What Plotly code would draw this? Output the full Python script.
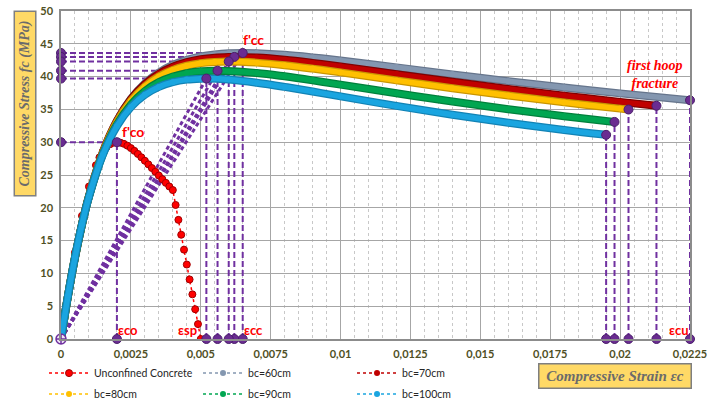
import plotly.graph_objects as go

# ---------------- data ----------------
unconf_strain = [0, 0.00025, 0.0005, 0.00075, 0.001, 0.00125, 0.001375, 0.0015, 0.001625, 0.00175,
                 0.001875, 0.002, 0.002125, 0.00225, 0.002375, 0.0025, 0.002625, 0.00275, 0.002875,
                 0.003, 0.003125, 0.00325, 0.003375, 0.0035, 0.003625, 0.00375, 0.003875, 0.004,
                 0.0041, 0.0042, 0.0043, 0.0044, 0.0045, 0.0046, 0.0047, 0.0048, 0.0049, 0.005]
unconf_stress = [0, 6.79, 13.19, 18.77, 23.24, 26.49, 27.68, 28.59, 29.24, 29.68,
                 29.93, 30.0, 29.93, 29.75, 29.47, 29.10, 28.68, 28.21, 27.70,
                 27.17, 26.62, 26.06, 25.49, 24.92, 24.36, 23.80, 23.25, 22.70,
                 20.43, 18.16, 15.89, 13.62, 11.35, 9.08, 6.81, 4.54, 2.27, 0]

strain_60 = [0, 0.00025, 0.0005, 0.00075, 0.001, 0.0015, 0.002, 0.0025, 0.003, 0.0035, 0.004,
             0.0045, 0.005, 0.0055, 0.006, 0.0065, 0.007, 0.008, 0.009, 0.010, 0.012, 0.014,
             0.016, 0.018, 0.020, 0.0225]
stress_60 = [0, 6.57, 12.41, 17.45, 21.75, 28.46, 33.22, 36.59, 38.96, 40.62, 41.77,
             42.56, 43.08, 43.38, 43.55, 43.60, 43.57, 43.33, 42.93, 42.46, 41.41, 40.34,
             39.31, 38.35, 37.44, 36.40]

strain_70 = [0, 0.00025, 0.0005, 0.00075, 0.001, 0.0015, 0.002, 0.0025, 0.003, 0.0035, 0.004,
             0.0045, 0.005, 0.0055, 0.006, 0.0062, 0.007, 0.008, 0.009, 0.010, 0.012, 0.014,
             0.016, 0.018, 0.020, 0.0213]
stress_70 = [0, 6.58, 12.43, 17.49, 21.80, 28.51, 33.23, 36.54, 38.84, 40.42, 41.50,
             42.21, 42.65, 42.89, 42.99, 43.00, 42.90, 42.56, 42.08, 41.54, 40.38, 39.22,
             38.12, 37.10, 36.15, 35.55]

strain_80 = [0, 0.00025, 0.0005, 0.00075, 0.001, 0.0015, 0.002, 0.0025, 0.003, 0.0035, 0.004,
             0.0045, 0.005, 0.0055, 0.006, 0.007, 0.008, 0.009, 0.010, 0.012, 0.014,
             0.016, 0.018, 0.020, 0.0203]
stress_80 = [0, 6.58, 12.43, 17.47, 21.76, 28.41, 33.06, 36.28, 38.50, 40.01, 41.02,
             41.66, 42.05, 42.24, 42.30, 42.13, 41.74, 41.22, 40.64, 39.42, 38.23,
             37.11, 36.07, 35.12, 34.98]

strain_90 = [0, 0.00025, 0.0005, 0.00075, 0.001, 0.0015, 0.002, 0.0025, 0.003, 0.0035, 0.004,
             0.0045, 0.005, 0.0056, 0.007, 0.008, 0.009, 0.010, 0.012, 0.014, 0.016, 0.018, 0.0198]
stress_90 = [0, 6.59, 12.43, 17.45, 21.69, 28.21, 32.69, 35.74, 37.79, 39.15, 40.01,
             40.53, 40.80, 40.90, 40.55, 40.04, 39.43, 38.77, 37.46, 36.20, 35.03, 33.96, 33.09]

strain_100 = [0, 0.00025, 0.0005, 0.00075, 0.001, 0.0015, 0.002, 0.0025, 0.003, 0.0035, 0.004,
              0.0045, 0.005, 0.0052, 0.006, 0.007, 0.008, 0.009, 0.010, 0.012, 0.014, 0.016,
              0.018, 0.0195]
stress_100 = [0, 6.59, 12.44, 17.46, 21.68, 28.11, 32.45, 35.34, 37.23, 38.43, 39.15,
              39.54, 39.69, 39.70, 39.55, 39.07, 38.43, 37.72, 36.98, 35.53, 34.19, 32.97,
              31.86, 31.12]

series_names = ["Unconfined Concrete", "bc=60cm", "bc=70cm", "bc=80cm", "bc=90cm", "bc=100cm"]
series_strain = [unconf_strain, strain_60, strain_70, strain_80, strain_90, strain_100]
series_stress = [unconf_stress, stress_60, stress_70, stress_80, stress_90, stress_100]

x_tickvals = [0, 0.0025, 0.005, 0.0075, 0.01, 0.0125, 0.015, 0.0175, 0.02, 0.0225]
x_ticktext = ["0", "0,0025", "0,005", "0,0075", "0,01", "0,0125", "0,015", "0,0175", "0,02", "0,0225"]
y_tickvals = [0, 5, 10, 15, 20, 25, 30, 35, 40, 45, 50]

# ---------------- styles ----------------
band_colors = ["#FF0000", "#8497B0", "#C00000", "#FFC000", "#00A651", "#1AA5E0"]
edge_colors = ["#A00000", "#66758C", "#800000", "#C99500", "#00803C", "#1283B5"]
legend_ids = ["legend", "legend", "legend", "legend2", "legend2", "legend2"]
purple = "#7030A0"
dot_purple = "#6A2C91"
tick_font = dict(family="Lato", size=11, color="#4F4F24", weight="bold")

fig = go.Figure()

# ---------------- purple construction lines (under curves) ----------------
hx, hy, vx, vy, sx, sy = [], [], [], [], [], []
peak_pts = []
ult_pts = []
for i, (xs, ys) in enumerate(zip(series_strain, series_stress)):
    k = ys.index(max(ys))
    ep, fp = xs[k], ys[k]
    peak_pts.append((ep, fp))
    hx += [0, ep, None]; hy += [fp, fp, None]
    vx += [ep, ep, None]; vy += [0, fp, None]
    if i > 0:
        sx += [0, ep, None]; sy += [0, fp, None]
        eu, fu = xs[-1], ys[-1]
        ult_pts.append((eu, fu))
        vx += [eu, eu, None]; vy += [0, fu, None]

fig.add_trace(go.Scatter(x=hx + vx, y=hy + vy, mode="lines", showlegend=False, hoverinfo="skip",
                         line=dict(color=purple, width=2, dash="6px,3px")))
fig.add_trace(go.Scatter(x=sx, y=sy, mode="lines", showlegend=False, hoverinfo="skip",
                         line=dict(color=purple, width=3, dash="4px,3px")))

# ---------------- stress-strain curves ----------------
for i, name in enumerate(series_names):
    xs, ys = series_strain[i], series_stress[i]
    if i == 0:
        fig.add_trace(go.Scatter(x=xs, y=ys, mode="lines+markers", name=name, legend=legend_ids[i],
                                 line=dict(color=band_colors[i], width=1.5, dash="dot"),
                                 marker=dict(size=7, color=band_colors[i],
                                             line=dict(color=edge_colors[i], width=1))))
        continue
    fig.add_trace(go.Scatter(x=xs, y=ys, mode="lines", showlegend=False, hoverinfo="skip",
                             line=dict(color=edge_colors[i], width=8, shape="spline")))
    fig.add_trace(go.Scatter(x=xs, y=ys, mode="lines", showlegend=False, hoverinfo="skip",
                             line=dict(color=band_colors[i], width=5.5, shape="spline")))
    fig.add_trace(go.Scatter(x=xs, y=ys, mode="lines+markers", name=name, legend=legend_ids[i],
                             line=dict(color=band_colors[i], width=1.5, dash="dot", shape="spline"),
                             marker=dict(size=6, color=band_colors[i], line=dict(width=0))))

# ---------------- purple dots ----------------
dx, dy = [], []
for ep, fp in peak_pts:
    dx += [0, ep, ep]; dy += [fp, 0, fp]
for eu, fu in ult_pts:
    dx += [eu, eu]; dy += [0, fu]
fig.add_trace(go.Scatter(x=dx, y=dy, mode="markers", showlegend=False, hoverinfo="skip",
                         cliponaxis=False,
                         marker=dict(size=9, color=dot_purple, line=dict(color="#4B1F6B", width=1))))
fig.add_trace(go.Scatter(x=[0], y=[0], mode="markers", showlegend=False, hoverinfo="skip",
                         cliponaxis=False,
                         marker=dict(size=10, symbol="circle-cross", color="#EDE4F5",
                                     line=dict(color=purple, width=1.5))))

# ---------------- text annotations ----------------
red_font = dict(family="Lato", size=14, color="#FF0000", weight="bold")
eps_font = dict(family="Lato", size=13, color="#FF0000", weight="bold")
labels = [
    ("f'co", 0.00258, 31.6, red_font),
    ("f'cc", 0.00688, 45.7, red_font),
    ("εco", 0.0024, 1.3, eps_font),
    ("εsp", 0.00452, 1.3, eps_font),
    ("εcc", 0.0069, 1.3, eps_font),
    ("εcu", 0.0221, 1.4, eps_font),
]
for txt, ax_, ay_, fnt in labels:
    fig.add_annotation(x=ax_, y=ay_, xref="x", yref="y", text=txt, showarrow=False, font=fnt,
                       xanchor="center", yanchor="middle")

fig.add_annotation(x=0.02125, y=40.3, xref="x", yref="y", text="first hoop<br>fracture",
                   showarrow=False, xanchor="center", yanchor="middle",
                   font=dict(family="Liberation Serif", size=14, color="#FF0000",
                             style="italic", weight="bold"))

# axis titles in yellow boxes
fig.add_annotation(x=-0.0572, y=0.718, xref="paper", yref="paper", xanchor="center", yanchor="middle",
                   text="Compressive Stress fc (MPa)", textangle=-90, showarrow=False,
                   width=181, height=18, bgcolor="#FFD966", bordercolor="#7F7F7F", borderwidth=1.5,
                   font=dict(family="Liberation Serif", size=14, color="#6B6B6B", style="italic",
                             weight="bold"))
fig.add_annotation(x=0.880, y=-0.1143, xref="paper", yref="paper", xanchor="center", yanchor="middle",
                   text="Compressive Strain εc", showarrow=False,
                   width=149, height=21, bgcolor="#FFD966", bordercolor="#7F7F7F", borderwidth=1.5,
                   font=dict(family="Liberation Serif", size=15, color="#6B6B6B", style="italic",
                             weight="bold"))

legend_common = dict(orientation="h", x=-0.027, xanchor="left", yanchor="middle",
                     entrywidth=99, entrywidthmode="pixels", itemwidth=40,
                     bgcolor="rgba(0,0,0,0)", font=dict(family="Lato", size=10.5, color="#262626"))

fig.update_layout(
    width=718, height=401,
    margin=dict(l=61, r=28, t=11, b=62, autoexpand=False),
    paper_bgcolor="white", plot_bgcolor="white",
    legend=dict(y=-0.104, **legend_common),
    legend2=dict(y=-0.168, **legend_common),
    xaxis=dict(range=[0, 0.0225], tickvals=x_tickvals, ticktext=x_ticktext, tickfont=tick_font,
               showgrid=True, gridcolor="#A6A6A6", gridwidth=1,
               minor=dict(dtick=0.0005, showgrid=True, gridcolor="#C8C8C8", griddash="dot"),
               showline=True, linecolor="#8C8C8C", linewidth=1.5, mirror=True,
               zeroline=False, ticks="", ticklabelstandoff=4),
    yaxis=dict(range=[0, 50], tickvals=y_tickvals, tickfont=tick_font,
               showgrid=True, gridcolor="#A6A6A6", gridwidth=1,
               showline=True, linecolor="#8C8C8C", linewidth=1.5, mirror=True,
               zeroline=False, ticks="", ticklabelstandoff=4),
    showlegend=True,
)

fig.write_html("out.html", config={"displayModeBar": False},
               post_script="document.body.style.margin='0px';")
